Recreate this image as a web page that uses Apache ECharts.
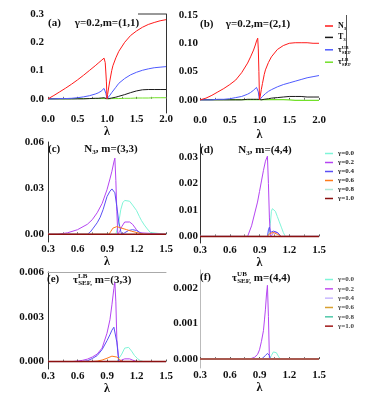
<!DOCTYPE html>
<html><head><meta charset="utf-8">
<script src="https://cdn.jsdelivr.net/npm/echarts@6/dist/echarts.min.js"></script>
<style>html,body{margin:0;padding:0;background:#fff}#c{width:374px;height:418px}</style>
</head><body><div id="c"></div>
<script>
// ---------- data: panels (a) and (b) ----------
const lamAB = [0,0.1,0.2,0.3,0.4,0.5,0.6,0.7,0.8,0.85,0.9,0.93,0.95,0.97,0.98,0.99,1.0,1.01,1.03,1.05,1.08,1.1,1.15,1.2,1.3,1.4,1.5,1.6,1.7,1.8,1.9,2.0];
const aN3 = [0,0.012,0.025,0.038,0.052,0.067,0.083,0.1,0.117,0.126,0.135,0.141,0.144,0.128,0.095,0.06,0.0,0.015,0.042,0.066,0.1,0.117,0.145,0.168,0.2,0.224,0.24,0.253,0.263,0.27,0.276,0.28];
const aT3 = [0,0,0,0,0,0,0,0.001,0.002,0.002,0.003,0.003,0.004,0.003,0.002,0.001,0,0,0.001,0.002,0.003,0.004,0.006,0.009,0.015,0.022,0.028,0.032,0.033,0.033,0.033,0.033];
const aUB = [0,0,0.001,0.001,0.002,0.004,0.007,0.011,0.017,0.021,0.027,0.032,0.037,0.03,0.02,0.01,0,0.001,0.006,0.013,0.022,0.028,0.041,0.055,0.072,0.085,0.094,0.101,0.106,0.11,0.112,0.114];
const aLB = [0,0,0,0,0,0.001,0.001,0.001,0.001,0.001,0.001,0.001,0.001,0.001,0.001,0.0005,0,0,0,0.0005,0.001,0.001,0.001,0.001,0.002,0.002,0.003,0.003,0.003,0.004,0.004,0.004];
const bN3 = [0,0.003,0.008,0.014,0.02,0.027,0.035,0.048,0.065,0.076,0.088,0.097,0.104,0.109,0.09,0.05,0,0.005,0.018,0.029,0.045,0.053,0.066,0.076,0.089,0.096,0.1,0.101,0.101,0.101,0.1,0.1];
const bT3 = [0,0,0,0,0,0,0,0,0.001,0.001,0.001,0.001,0.001,0.001,0.001,0.001,0,0,0,0.0005,0.001,0.001,0.002,0.003,0.004,0.005,0.006,0.006,0.006,0.005,0.005,0.005];
const bUB = [0,0,0,0.001,0.001,0.002,0.004,0.006,0.01,0.013,0.017,0.02,0.022,0.021,0.014,0.006,0,0.001,0.003,0.006,0.009,0.011,0.015,0.018,0.023,0.027,0.03,0.033,0.036,0.039,0.041,0.043];
const bLB = [0.0005,0.0005,0.0005,0.0005,0.0005,0.0005,0.0005,0.0005,0.0005,0.0005,0.0005,0.0005,0.0005,0.0005,0.0005,0.0005,0.0005,0.0005,0.0005,0.0005,0.0005,0.0005,0.0005,0.0005,0.0005,0.0005,0.0,-0.001,-0.001,-0.001,-0.001,-0.001];

// ---------- data: panels (c)-(f) ----------
const flatX = [0.3,1.5];
const flatY = [0,0];
const cG0X = [0.3,0.99,1.0,1.02,1.04,1.06,1.08,1.1,1.13,1.16,1.2,1.23,1.25,1.28,1.31,1.34,1.36,1.5];
const cG0Y = [0,0,0,0.008,0.016,0.0205,0.022,0.0222,0.0215,0.019,0.0155,0.0115,0.009,0.006,0.0035,0.0012,0,0];
const cG2X = [0.3,0.4,0.5,0.6,0.7,0.75,0.8,0.85,0.9,0.93,0.95,0.97,0.98,0.99,1.0,1.01,1.03,1.05,1.08,1.1,1.13,1.16,1.2,1.23,1.25,1.5];
const cG2Y = [0,0,0.001,0.003,0.0065,0.0095,0.014,0.02,0.029,0.036,0.041,0.047,0.0495,0.035,0.015,0,0.002,0.005,0.008,0.0088,0.008,0.0065,0.003,0.001,0,0];
const cG4X = [0.3,0.7,0.73,0.76,0.8,0.83,0.86,0.9,0.93,0.95,0.97,0.98,1.0,1.02,1.04,1.05,1.08,1.12,1.16,1.2,1.24,1.27,1.5];
const cG4Y = [0,0,0.0015,0.004,0.0075,0.011,0.016,0.0245,0.028,0.0295,0.0298,0.027,0.018,0.008,0.002,0,0.001,0.0025,0.003,0.0025,0.001,0,0];
const cG6X = [0.3,0.92,0.94,0.96,0.98,1.0,1.02,1.05,1.1,1.15,1.2,1.25,1.28,1.5];
const cG6Y = [0,0,0.002,0.004,0.0045,0.005,0.0045,0.004,0.003,0.002,0.0012,0.0004,0,0];

const dG0X = [0.3,0.99,1.0,1.01,1.02,1.03,1.04,1.06,1.08,1.1,1.12,1.14,1.16,1.5];
const dG0Y = [0,0,0,0.005,0.0095,0.0105,0.011,0.0095,0.0075,0.0055,0.0035,0.0015,0,0];
const dG2X = [0.3,0.78,0.82,0.85,0.88,0.9,0.92,0.94,0.96,0.98,0.99,1.0,1.01,1.03,1.05,1.07,1.09,1.11,1.5];
const dG2Y = [0,0,0.004,0.0085,0.013,0.017,0.021,0.025,0.0285,0.0304,0.02,0.007,0,0.0008,0.0018,0.002,0.0012,0,0];
const dG4X = [0.3,0.98,0.99,1.0,1.01,1.02,1.04,1.06,1.08,1.1,1.12,1.5];
const dG4Y = [0,0,0.0025,0.0035,0.0015,0.001,0.002,0.0022,0.0015,0.0008,0,0];
const dG6X = [0.3,0.98,1.0,1.04,1.08,1.12,1.5];
const dG6Y = [0,0,0.001,0.0015,0.0008,0,0];

const eG0X = [0.3,1.0,1.02,1.05,1.08,1.1,1.12,1.15,1.18,1.21,1.24,1.27,1.5];
const eG0Y = [0,0,0.0001,0.0005,0.0009,0.001,0.00095,0.0007,0.0004,0.0002,0.00005,0,0];
const eG2X = [0.3,0.55,0.6,0.65,0.7,0.75,0.8,0.85,0.9,0.93,0.95,0.97,0.98,0.99,1.0,1.02,1.05,1.08,1.1,1.13,1.16,1.2,1.5];
const eG2Y = [0,0,0.00003,0.00008,0.00016,0.0003,0.0005,0.0009,0.0019,0.0028,0.0038,0.0049,0.0053,0.004,0.0015,0,0.0001,0.00018,0.0002,0.00018,0.0001,0,0];
const eG4X = [0.3,0.65,0.7,0.75,0.8,0.85,0.9,0.93,0.95,0.97,0.98,1.0,1.02,1.5];
const eG4Y = [0,0,0.00005,0.0002,0.0004,0.0008,0.0014,0.0018,0.0021,0.0023,0.0022,0.0013,0,0];
const eG6X = [0.3,0.75,0.8,0.85,0.9,0.95,0.97,1.0,1.03,1.06,1.5];
const eG6Y = [0,0,0.00003,0.0001,0.00022,0.00036,0.00038,0.0003,0.00012,0,0];

const fG0X = [0.3,1.0,1.02,1.04,1.05,1.07,1.09,1.11,1.5];
const fG0Y = [0,0,0.0001,0.0002,0.00024,0.00018,0.00008,0,0];
const fG2X = [0.3,0.78,0.82,0.85,0.88,0.9,0.92,0.94,0.95,0.96,0.97,0.98,0.99,1.0,1.5];
const fG2Y = [0,0,0.00002,0.00005,0.00013,0.00026,0.0005,0.0008,0.0011,0.0014,0.0018,0.00207,0.0012,0,0];
const fG4X = [0.3,0.92,0.94,0.96,0.98,0.99,1.0,1.01,1.5];
const fG4Y = [0,0,0.00005,0.0001,0.00016,0.00018,0.0001,0,0];

const gammaNames = ['γ=0.0','γ=0.2','γ=0.4','γ=0.6','γ=0.8','γ=1.0'];
const abNames = ['N3','T3','UB','LB'];

// ---------- styling ----------
const serif = '"Liberation Serif", "Times New Roman", serif';
const C = {N3:'#ff1a1a', T3:'#1a1a1a', UB:'#4f5bff', LB:'#72e02a'};
const G = ['#7ff5d8','#b545f2','#5b4ff5','#ff7a1a','#aee8d5','#8b1010'];
const Gf = ['#7ff5d8','#c04ff0','#c8b8ff','#d8a030','#50c8a8','#a01818'];
const lab = {fontFamily:serif, fontWeight:'bold', fontSize:11, color:'#111'};

function fmtY(step, dec){
  return v => {
    if (Math.abs(v) < 1e-12) v = 0;
    return (Math.abs(v/step - Math.round(v/step)) < 1e-6 && v >= 0) ? v.toFixed(dec) : '';
  };
}
function xAx(gi, min, max, step, gap, margin){
  return {type:'value', gridIndex:gi, min, max, interval:step,
    axisLine:{show:false}, axisTick:{show:true, inside:true, length:2, lineStyle:{color:'#555'}},
    minorTick:{show:true, splitNumber:2, length:2, lineStyle:{color:'#777'}},
    splitLine:{show:false}, minorSplitLine:{show:false},
    axisLabel:{...lab, margin, formatter: v => v.toFixed(1)},
    name:'λ', nameLocation:'middle', nameGap:gap,
    nameTextStyle:{fontFamily:serif, fontWeight:'bold', fontSize:12, color:'#111'}};
}
function yAx(gi, min, max, step, labStep, dec, margin, lineColor){
  return {type:'value', gridIndex:gi, min, max, interval:step,
    axisLine:{show:!!lineColor, lineStyle:{color:lineColor||'#000', width:1}},
    axisTick:{show:false}, splitLine:{show:false},
    axisLabel:{...lab, margin, formatter: fmtY(labStep, dec)}};
}
function L(name, gi, xs, ys, color, w){
  return {type:'line', name, xAxisIndex:gi, yAxisIndex:gi,
    data: xs.map((x,i)=>[x, ys[i]]), showSymbol:false, symbol:'none',
    lineStyle:{color, width:w||1}, itemStyle:{color}, silent:true, animation:false};
}

const series = [
  L('LB',0,lamAB,aLB,C.LB), L('T3',0,lamAB,aT3,C.T3), L('UB',0,lamAB,aUB,C.UB), L('N3',0,lamAB,aN3,C.N3),
  L('LB',1,lamAB,bLB,C.LB,1.3), L('T3',1,lamAB,bT3,C.T3), L('UB',1,lamAB,bUB,C.UB), L('N3',1,lamAB,bN3,C.N3),
  // (c)
  L(gammaNames[0],2,cG0X,cG0Y,G[0]), L(gammaNames[1],2,cG2X,cG2Y,G[1]), L(gammaNames[2],2,cG4X,cG4Y,G[2]),
  L(gammaNames[3],2,cG6X,cG6Y,G[3]), L(gammaNames[4],2,flatX,flatY,G[4]), L(gammaNames[5],2,flatX,flatY,G[5],1.5),
  // (d)
  L(gammaNames[0],3,dG0X,dG0Y,G[0]), L(gammaNames[1],3,dG2X,dG2Y,G[1]), L(gammaNames[2],3,dG4X,dG4Y,G[2]),
  L(gammaNames[3],3,dG6X,dG6Y,G[3]), L(gammaNames[4],3,flatX,flatY,G[4]), L(gammaNames[5],3,flatX,flatY,G[5],1.5),
  // (e)
  L(gammaNames[0],4,eG0X,eG0Y,G[0]), L(gammaNames[1],4,eG2X,eG2Y,G[1]), L(gammaNames[2],4,eG4X,eG4Y,G[2]),
  L(gammaNames[3],4,eG6X,eG6Y,G[3]), L(gammaNames[4],4,flatX,flatY,G[4]), L(gammaNames[5],4,flatX,flatY,G[5],1.5),
  // (f)
  L(gammaNames[0],5,fG0X,fG0Y,G[0]), L(gammaNames[1],5,fG2X,fG2Y,G[1]), L(gammaNames[2],5,fG4X,fG4Y,G[2]),
  L(gammaNames[3],5,flatX,flatY,G[3]), L(gammaNames[4],5,flatX,flatY,G[4]), L(gammaNames[5],5,flatX,flatY,'#a85a50',2)
];

const titleRich = {
  m:{fontFamily:serif, fontWeight:'bold', fontSize:11, color:'#111', lineHeight:14},
  s:{fontFamily:serif, fontWeight:'bold', fontSize:7, color:'#111', lineHeight:7, verticalAlign:'bottom'},
  p:{fontFamily:serif, fontWeight:'bold', fontSize:7, color:'#111', lineHeight:7, verticalAlign:'top', width:0.1}
};
function T(x, y, text, align){
  return {type:'text', x, y, z:100, silent:true,
    style:{text, textAlign:align||'left', textVerticalAlign:'middle', rich:titleRich, font:'bold 11px '+serif, fill:'#111'}};
}
const legRich = {
  m:{fontFamily:serif, fontWeight:'bold', fontSize:8, color:'#111', lineHeight:10},
  s:{fontFamily:serif, fontWeight:'bold', fontSize:5, color:'#111', lineHeight:5, verticalAlign:'bottom'},
  p:{fontFamily:serif, fontWeight:'bold', fontSize:5, color:'#111', lineHeight:5, verticalAlign:'top', width:0.1}
};
const legMap = {N3:'{m|N}{s|3}', T3:'{m|T}{s|3}', UB:'{m|τ}{p|UB}{s|SEF}', LB:'{m|τ}{p|LB}{s|SEF}'};

const option = {
  backgroundColor:'#fff', animation:false,
  grid:[
    {left:48, top:14, width:118, height:99, outerBoundsMode:'none', containLabel:false},
    {left:200, top:15, width:119, height:99, outerBoundsMode:'none', containLabel:false},
    {left:48, top:142, width:118, height:100, outerBoundsMode:'none', containLabel:false},
    {left:200, top:144, width:119, height:99, outerBoundsMode:'none', containLabel:false},
    {left:48, top:272, width:118, height:97, outerBoundsMode:'none', containLabel:false},
    {left:200, top:270, width:119, height:98, outerBoundsMode:'none', containLabel:false}
  ],
  xAxis:[
    xAx(0,0,2,0.5,11,1), xAx(1,0,2,0.5,15,1),
    xAx(2,0.3,1.5,0.3,13,2), xAx(3,0.3,1.5,0.3,14,2),
    xAx(4,0.3,1.5,0.3,13,2), xAx(5,0.3,1.5,0.3,14,2),
    {type:'value', gridIndex:4, position:'top', min:0.3, max:1.5,
      axisLine:{show:true, lineStyle:{color:'#aaa'}}, axisTick:{show:false}, axisLabel:{show:false}, splitLine:{show:false}}
  ],
  yAxis:[
    yAx(0,-0.05,0.3,0.05,0.1,1,4),
    yAx(1,-0.025,0.15,0.025,0.05,2,2),
    yAx(2,-0.005,0.06,0.005,0.03,2,4,'#333'),
    yAx(3,-0.0025,0.035,0.0025,0.01,2,2,'#333'),
    yAx(4,-0.0005,0.006,0.0005,0.003,3,4,'#333'),
    yAx(5,-0.00025,0.0025,0.00025,0.001,3,2,'#bbb'),
    {type:'value', gridIndex:0, position:'right', min:-0.05, max:0.3,
      axisLine:{show:true, lineStyle:{color:'#333'}}, axisTick:{show:false}, axisLabel:{show:false}, splitLine:{show:false}}
  ],
  legend:[
    {left:320, top:17, orient:'vertical', icon:'rect', itemWidth:8, itemHeight:1.5, itemGap:2.4,
      selectedMode:false, data:abNames, formatter:n=>legMap[n], textStyle:{rich:legRich, color:'#111'}},
    {left:320, top:145, orient:'vertical', icon:'rect', itemWidth:8, itemHeight:1.5, itemGap:2,
      selectedMode:false, data:gammaNames,
      textStyle:{fontFamily:serif, fontWeight:'bold', fontSize:7, lineHeight:7, color:'#222'}},
    {left:320, top:271, orient:'vertical', icon:'rect', itemWidth:8, itemHeight:1.5, itemGap:2.33,
      selectedMode:false, data:gammaNames.map((n,i)=>({name:n, itemStyle:{color:Gf[i]}})),
      textStyle:{fontFamily:serif, fontWeight:'bold', fontSize:7, lineHeight:7, color:'#444'}}
  ],
  graphic:[
    T(48,23,'{m|(a)}'), T(107,23,'{m|γ=0.2,m=(1,1)}','center'),
    T(200,24,'{m|(b)}'), T(258,24,'{m|γ=0.2,m=(2,1)}','center'),
    T(48,149,'{m|(c)}'), T(111,149,'{m|N}{s|3}{m|, m=(3,3)}','center'),
    T(200,150,'{m|(d)}'), T(265,150,'{m|N}{s|3}{m|, m=(4,4)}','center'),
    T(47,279,'{m|(e)}'), T(73,280,'{m|τ}{p|LB}{s|SEF,}{m| m=(3,3)}'),
    T(200,277,'{m|(f)}'), T(232,278,'{m|τ}{p|UB}{s|SEF,}{m| m=(4,4)}'),
    {type:'line', silent:true, shape:{x1:138,y1:14,x2:166,y2:14}, style:{stroke:'#333', lineWidth:1}},
    {type:'line', silent:true, shape:{x1:346.5,y1:15,x2:346.5,y2:65}, style:{stroke:'#555', lineWidth:1}}
  ],
  series
};
const chart = echarts.init(document.getElementById('c'), null, {renderer:'canvas'});
chart.setOption(option);
</script></body></html>
